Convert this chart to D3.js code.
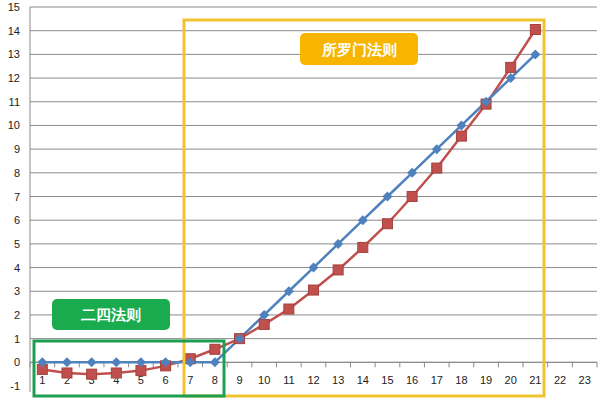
<!DOCTYPE html><html><head><meta charset="utf-8"><script src="https://cdn.jsdelivr.net/npm/d3@7"></script>
<style>body{margin:0;background:#fff}text{font-family:"Liberation Sans",Arial,sans-serif}</style></head><body><svg id="c" width="601" height="405"></svg>
<script>
const categories=d3.range(1,24);
const blueValues=[0,0,0,0,0,0,0,0,1,2,3,4,5,6,7,8,9,10,11,12,13];
const redValues=[-0.3,-0.45,-0.5,-0.45,-0.35,-0.15,0.15,0.55,1,1.6,2.25,3.05,3.9,4.85,5.85,7,8.2,9.55,10.9,12.45,14.05];
const yTicks=d3.range(-1,16);
const svg=d3.select("#c");
const x=d3.scaleBand().domain(categories).range([30,597]);
const y=d3.scaleLinear().domain([-1,15]).range([386,7]);
// gridlines
svg.append("g").selectAll("line").data(yTicks.filter(d=>d>-1)).join("line")
 .attr("x1",30).attr("x2",597).attr("y1",d=>y(d)).attr("y2",d=>y(d)).attr("stroke","#8a8a8a").attr("stroke-width",1);
svg.append("line").attr("x1",30).attr("x2",30).attr("y1",7).attr("y2",392).attr("stroke","#8a8a8a");
svg.append("g").selectAll("text").data(yTicks).join("text").attr("x",20).attr("y",d=>y(d)+4)
 .attr("text-anchor","end").attr("font-size",11).attr("fill","#222").text(d=>d);
// x axis at 0
const xa=svg.append("g").attr("transform",`translate(0,${y(0)})`);
xa.append("line").attr("x1",30).attr("x2",597).attr("stroke","#8a8a8a");
xa.selectAll(".t").data(categories.concat([24])).join("line").attr("x1",(d,i)=>30+i*x.bandwidth()).attr("x2",(d,i)=>30+i*x.bandwidth()).attr("y1",0).attr("y2",5).attr("stroke","#8a8a8a");
xa.selectAll("text").data(categories).join("text").attr("x",d=>x(d)+x.bandwidth()/2).attr("y",22)
 .attr("text-anchor","middle").attr("font-size",11).attr("fill","#222").text(d=>d);
const cx=(d,i)=>x(categories[i])+x.bandwidth()/2;
const line=d3.line().x(cx).y(d=>y(d));
svg.append("path").datum(redValues).attr("d",line).attr("fill","none").attr("stroke","#c0504d").attr("stroke-width",2.5);
svg.append("path").datum(blueValues).attr("d",line).attr("fill","none").attr("stroke","#4f81bd").attr("stroke-width",2.5);
svg.append("g").selectAll("rect").data(redValues).join("rect").attr("x",(d,i)=>cx(d,i)-5).attr("y",d=>y(d)-5).attr("width",10).attr("height",10).attr("fill","#c0504d").attr("stroke","#a5403d");
svg.append("g").selectAll("path").data(blueValues).join("path").attr("transform",(d,i)=>`translate(${cx(d,i)},${y(d)})`).attr("d","M0,-5L5,0L0,5L-5,0Z").attr("fill","#4f81bd");
// boxes
svg.append("rect").attr("x",184).attr("y",20).attr("width",360).attr("height",376).attr("fill","none").attr("stroke","#f0c430").attr("stroke-width",3);
svg.append("rect").attr("x",34).attr("y",341).attr("width",190).attr("height",55).attr("fill","none").attr("stroke","#1e9e55").attr("stroke-width",3);
svg.append("rect").attr("x",52).attr("y",299).attr("width",118).attr("height",31).attr("rx",5).attr("fill","#1aab4f");
svg.append("text").attr("x",111).attr("y",320).attr("text-anchor","middle").attr("font-size",15).attr("font-weight","bold").attr("fill","#fff").attr("font-family","Noto Sans CJK SC").text("二四法则");
svg.append("rect").attr("x",300).attr("y",33).attr("width",118).attr("height",32).attr("rx",5).attr("fill","#f7b500");
svg.append("text").attr("x",359).attr("y",55).attr("text-anchor","middle").attr("font-size",15).attr("font-weight","bold").attr("fill","#fff").attr("font-family","Noto Sans CJK SC").text("所罗门法则");
</script></body></html>
